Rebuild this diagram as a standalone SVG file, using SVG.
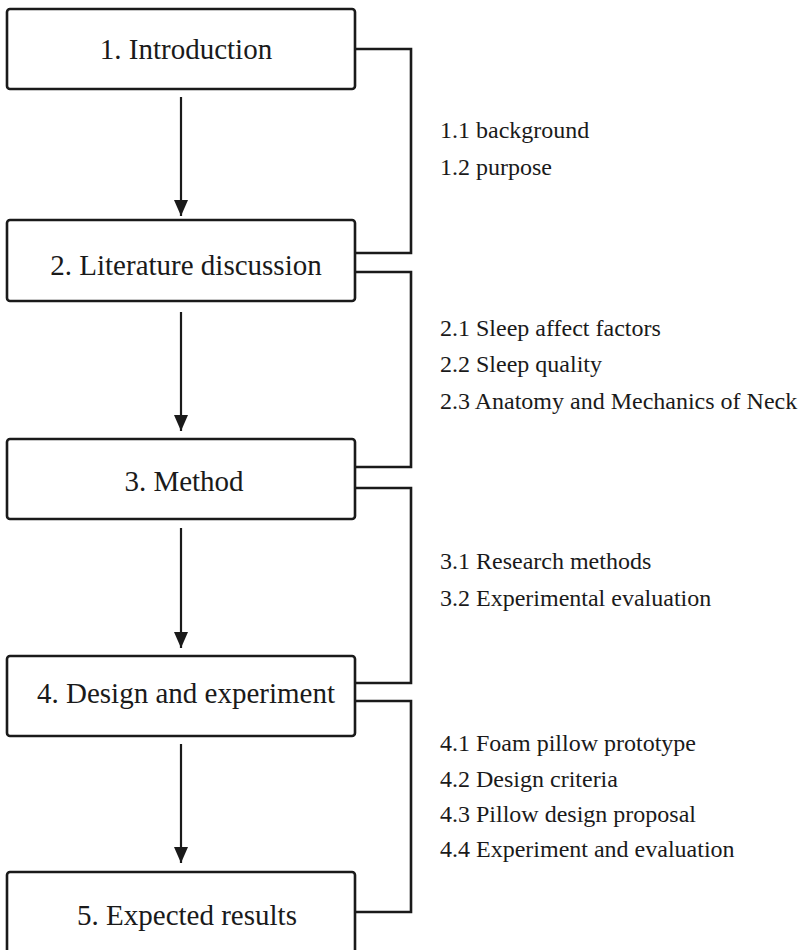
<svg xmlns="http://www.w3.org/2000/svg" width="808" height="950" viewBox="0 0 808 950">
<style>
.box{fill:#fff;stroke:#1a1a1a;stroke-width:2.6}
.title{font-size:29px;fill:#1a1a1a;text-anchor:middle}
.item{font-size:24px;fill:#1a1a1a}
.conn{fill:none;stroke:#1a1a1a;stroke-width:2.6}
.arrow{stroke:#1a1a1a;stroke-width:2.2;fill:none}
</style>
<defs>
<marker id="ah" markerWidth="16" markerHeight="14" refX="16" refY="7" orient="auto" markerUnits="userSpaceOnUse">
<path d="M0,0 L16,7 L0,14 Z" fill="#1a1a1a"/>
</marker>
</defs>
<rect width="808" height="950" fill="#fff"/>
<g id="connectors">
<path class="conn" d="M355,49 H411 V253 H355"/>
<path class="conn" d="M355,272 H411 V467 H355"/>
<path class="conn" d="M355,488 H411 V683 H355"/>
<path class="conn" d="M355,701 H411 V912 H355"/>
<line class="arrow" x1="181" y1="97" x2="181" y2="216" marker-end="url(#ah)"/>
<line class="arrow" x1="181" y1="312" x2="181" y2="431" marker-end="url(#ah)"/>
<line class="arrow" x1="181" y1="528" x2="181" y2="648" marker-end="url(#ah)"/>
<line class="arrow" x1="181" y1="744" x2="181" y2="863" marker-end="url(#ah)"/>
</g>
<g font-family="Liberation Serif, DejaVu Serif, serif">
<g id="node1">
<rect class="box" x="7" y="9" width="348" height="80" rx="3"/>
<text class="title" x="186" y="59">1. Introduction</text>
</g>
<g id="node2">
<rect class="box" x="7" y="220" width="348" height="81" rx="3"/>
<text class="title" x="186" y="275">2. Literature discussion</text>
</g>
<g id="node3">
<rect class="box" x="7" y="439" width="348" height="80" rx="3"/>
<text class="title" x="184" y="491">3. Method</text>
</g>
<g id="node4">
<rect class="box" x="7" y="656" width="348" height="80" rx="3"/>
<text class="title" x="186" y="703">4. Design and experiment</text>
</g>
<g id="node5">
<rect class="box" x="7" y="872" width="348" height="90" rx="3"/>
<text class="title" x="187" y="925">5. Expected results</text>
</g>
<g id="items1">
<text class="item" x="440" y="138">1.1 background</text>
<text class="item" x="440" y="175">1.2 purpose</text>
</g>
<g id="items2">
<text class="item" x="440" y="336">2.1 Sleep affect factors</text>
<text class="item" x="440" y="372">2.2 Sleep quality</text>
<text class="item" x="440" y="409">2.3 Anatomy and Mechanics of Neck</text>
</g>
<g id="items3">
<text class="item" x="440" y="569">3.1 Research methods</text>
<text class="item" x="440" y="606">3.2 Experimental evaluation</text>
</g>
<g id="items4">
<text class="item" x="440" y="751">4.1 Foam pillow prototype</text>
<text class="item" x="440" y="787">4.2 Design criteria</text>
<text class="item" x="440" y="822">4.3 Pillow design proposal</text>
<text class="item" x="440" y="857">4.4 Experiment and evaluation</text>
</g>
</g>
</svg>
